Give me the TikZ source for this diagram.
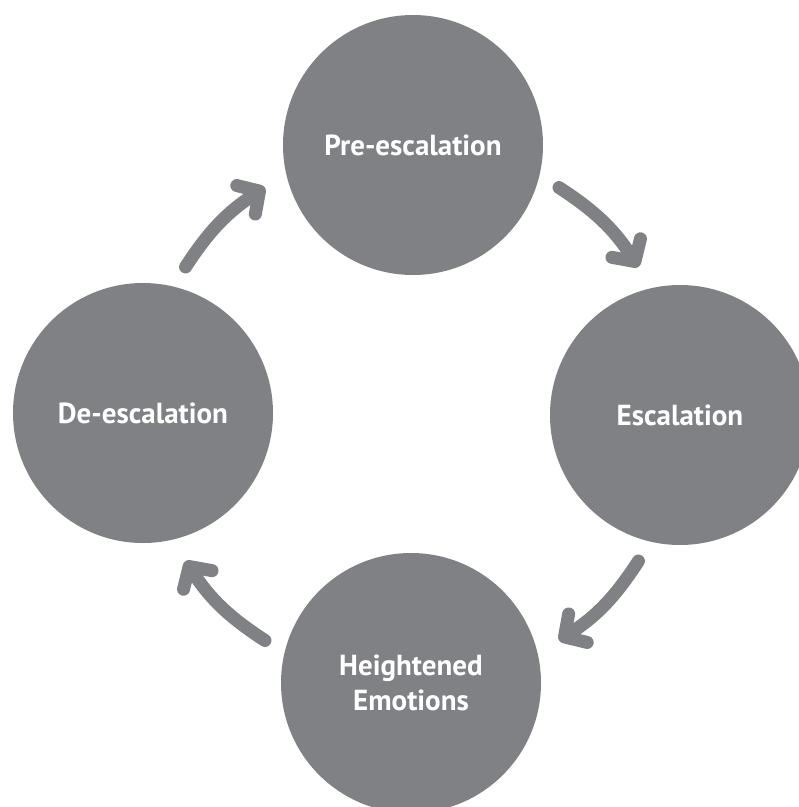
\documentclass[tikz,border=0pt]{standalone}
\usepackage{fontspec}
\setmainfont{PT Sans}
\usetikzlibrary{positioning,calc,arrows.meta}
\definecolor{stagegray}{RGB}{128,129,133}

\begin{document}
\begin{tikzpicture}[x=1pt,y=1pt,
	stage/.style={circle,fill=stagegray,minimum size=260pt,inner sep=0pt,text=white,align=center,font=\fontsize{29}{35}\selectfont\bfseries},
	cyc/.style={draw=stagegray,line width=13pt,line cap=round,-{Straight Barb[round,length=16pt,width=34pt]}}]
	\useasboundingbox (0,0) rectangle (799,-807);
	\clip (0,0) rectangle (799,-807);
	\coordinate (mid) at (412,-414);
	\node[stage] (pre) at (413,-145) {Pre-escalation};
	\node[stage] (esc) at (680,-415) {Escalation};
	\node[stage] (high) at (411,-683) {Heightened\\Emotions};
	\node[stage] (deesc) at (143,-413) {De-escalation};
	
	\foreach \s/\e [count=\i] in {147/123,57/33,-33/-57,-123/-147}{%
		\coordinate (a\i) at ($(mid)+(\s:270)$);
		\coordinate (b\i) at ($(mid)+(\e:270)$);
		\draw[cyc] (a\i) to[bend left=12] (b\i);
	}
\end{tikzpicture}
\end{document}
